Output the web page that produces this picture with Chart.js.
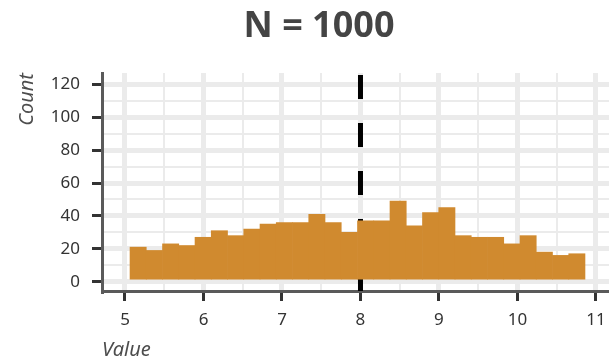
<!DOCTYPE html>
<html>
<head>
<meta charset="utf-8">
<script src="https://cdn.jsdelivr.net/npm/chart.js@4/dist/chart.umd.min.js"></script>
<style>
  html, body { margin: 0; padding: 0; background: #ffffff; }
  #wrap { width: 609px; height: 360px; position: relative; }
</style>
</head>
<body>
<div id="wrap"><canvas id="chart"></canvas></div>
<script>
// Histogram of 1000 values with a reference line at 8
const titleText = 'N = 1000';
const xTitle = 'Value';
const yTitle = 'Count';

// bins: left edge of the first bin and the common bin width
const binStart = 5.064;
const binWidth = 0.207;
const counts = [21, 19, 23, 22, 27, 31, 28, 32, 35, 36, 36, 41, 36, 30,
                37, 37, 49, 34, 42, 45, 28, 27, 27, 23, 28, 18, 16, 17];

const xMajorTicks = [5, 6, 7, 8, 9, 10, 11];
const xMinorTicks = [5.5, 6.5, 7.5, 8.5, 9.5, 10.5];
const yMajorTicks = [0, 20, 40, 60, 80, 100, 120];
const yMinorTicks = [10, 30, 50, 70, 90, 110];

const refLineX = 8;
const xLimits = [4.707, 11.166];
const yLimits = [-5.65, 126.87];

const FONT = '"Noto Sans", "DejaVu Sans", sans-serif';
const GRID = '#ebebeb';
const BAR = '#d08a2f';

const histPoints = counts.map((c, i) => ({ x: binStart + binWidth * (i + 0.5), y: c }));

const isMajorX = v => xMajorTicks.includes(v);
const isMajorY = v => yMajorTicks.includes(v);

function tickList(major, minor) {
  return major.concat(minor).sort((a, b) => a - b).map(v => ({ value: v }));
}

const plotTitle = {
  id: 'plotTitle',
  afterDraw(chart) {
    const ctx = chart.ctx;
    ctx.save();
    ctx.font = 'bold 36px ' + FONT;
    ctx.fillStyle = '#444444';
    ctx.textAlign = 'center';
    ctx.textBaseline = 'alphabetic';
    ctx.fillText(titleText, 319, 37);
    ctx.restore();
  }
};

function build() {
  new Chart(document.getElementById('chart'), {
    type: 'bar',
    data: {
      datasets: [
        {
          // dashed reference line, drawn underneath the bars
          type: 'line',
          data: [{ x: refLineX, y: yLimits[1] }, { x: refLineX, y: yLimits[0] }],
          borderColor: '#000000',
          borderWidth: 5,
          borderDash: [24, 24],
          borderDashOffset: -2,
          pointRadius: 0,
          order: 2
        },
        {
          type: 'bar',
          data: histPoints,
          backgroundColor: BAR,
          borderWidth: 0,
          barPercentage: 1,
          categoryPercentage: 1,
          order: 1
        }
      ]
    },
    options: {
      responsive: true,
      maintainAspectRatio: false,
      animation: false,
      devicePixelRatio: 1,
      layout: { padding: { top: 73, left: 0, right: 0, bottom: 0 } },
      plugins: { legend: { display: false }, tooltip: { enabled: false }, title: { display: false } },
      scales: {
        x: {
          type: 'linear',
          offset: false,
          min: xLimits[0],
          max: xLimits[1],
          afterBuildTicks: s => { s.ticks = tickList(xMajorTicks, xMinorTicks); },
          afterFit: s => { s.height = 69; s.paddingLeft = 0; s.paddingRight = 0; },
          grid: {
            offset: false,
            color: GRID,
            lineWidth: c => (c.tick && isMajorX(c.tick.value)) ? 5 : 2,
            drawTicks: true,
            tickLength: 10,
            tickWidth: 3,
            tickColor: c => (c.tick && isMajorX(c.tick.value)) ? '#333333' : 'rgba(0,0,0,0)'
          },
          border: { display: true, color: '#5a5a5a', width: 3 },
          ticks: {
            autoSkip: false,
            maxRotation: 0,
            padding: 9,
            color: '#333333',
            font: { family: FONT, size: 17 },
            callback: v => isMajorX(v) ? String(v) : ''
          },
          title: {
            display: true,
            text: xTitle,
            align: 'start',
            color: '#4d4d4d',
            font: { family: FONT, size: 20, style: 'italic', lineHeight: 1 },
            padding: { top: 0, bottom: 0 }
          }
        },
        y: {
          type: 'linear',
          min: yLimits[0],
          max: yLimits[1],
          afterBuildTicks: s => { s.ticks = tickList(yMajorTicks, yMinorTicks); },
          afterFit: s => { s.width = 102; s.paddingTop = 0; s.paddingBottom = 0; },
          grid: {
            color: GRID,
            lineWidth: c => (c.tick && isMajorY(c.tick.value)) ? 5 : 2,
            drawTicks: true,
            tickLength: 10,
            tickWidth: 3,
            tickColor: c => (c.tick && isMajorY(c.tick.value)) ? '#333333' : 'rgba(0,0,0,0)'
          },
          border: { display: true, color: '#5a5a5a', width: 3 },
          ticks: {
            autoSkip: false,
            padding: 12,
            color: '#333333',
            font: { family: FONT, size: 17 },
            callback: v => isMajorY(v) ? String(v) : ''
          },
          title: {
            display: true,
            text: yTitle,
            align: 'end',
            color: '#4d4d4d',
            font: { family: FONT, size: 20, style: 'italic', lineHeight: 1.2 },
            padding: { top: 15, bottom: 0 }
          }
        }
      }
    },
    plugins: [plotTitle]
  });
}

Promise.all([
  document.fonts.load('17px "Noto Sans"'),
  document.fonts.load('bold 36px "Noto Sans"'),
  document.fonts.load('italic 20px "Noto Sans"')
]).then(build, build);
</script>
</body>
</html>
